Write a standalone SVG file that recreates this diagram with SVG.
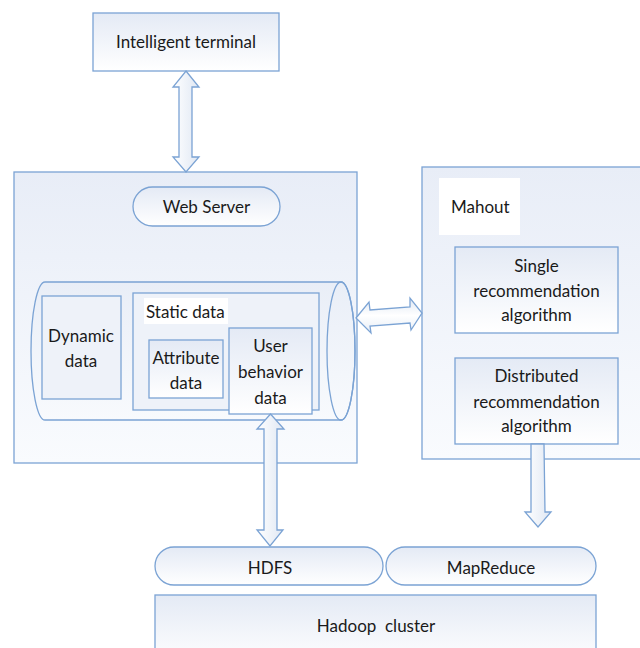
<svg xmlns="http://www.w3.org/2000/svg" width="640" height="648" viewBox="0 0 640 648">
  <defs>
    <linearGradient id="panelFill" x1="0" y1="0" x2="0" y2="1">
      <stop offset="0" stop-color="#e8edf7"/>
      <stop offset="1" stop-color="#f9fbfe"/>
    </linearGradient>
    <linearGradient id="boxFill" x1="0" y1="0" x2="0" y2="1">
      <stop offset="0" stop-color="#e4eaf5"/>
      <stop offset="1" stop-color="#ffffff"/>
    </linearGradient>
    <linearGradient id="arrowFillV" x1="0" y1="0" x2="1" y2="0">
      <stop offset="0" stop-color="#ffffff"/>
      <stop offset="1" stop-color="#dfe7f3"/>
    </linearGradient>
    <linearGradient id="arrowFillH" x1="0" y1="0" x2="0" y2="1">
      <stop offset="0" stop-color="#dfe7f3"/>
      <stop offset="0.5" stop-color="#ffffff"/>
      <stop offset="1" stop-color="#e6edf6"/>
    </linearGradient>
    <linearGradient id="cylFill" x1="0" y1="0" x2="0" y2="1">
      <stop offset="0" stop-color="#e9eef7"/>
      <stop offset="1" stop-color="#f8fafd"/>
    </linearGradient>
  </defs>
  <style>
    .panel { fill: url(#panelFill); stroke: #7ba3d4; stroke-width: 1.3; }
    .box { fill: url(#boxFill); stroke: #7ba3d4; stroke-width: 1.3; }
    .plain { fill: #eef2f9; stroke: #7ba3d4; stroke-width: 1.3; }
    .pill { fill: url(#boxFill); stroke: #7ba3d4; stroke-width: 1.3; }
    .arrowV { fill: url(#arrowFillV); stroke: #7ba3d4; stroke-width: 1.3; stroke-linejoin: miter; }
    .arrowH { fill: url(#arrowFillH); stroke: #7ba3d4; stroke-width: 1.3; stroke-linejoin: miter; }
    .label { fill: #ffffff; stroke: none; }
    text { font-family: Lato, "Liberation Sans", sans-serif; font-size: 17px; fill: #1a1a1a; }
    .c { text-anchor: middle; }
  </style>

  <!-- Intelligent terminal -->
  <g id="terminal">
    <rect class="box" x="93" y="13" width="186" height="58"/>
    <text class="c" x="186" y="48">Intelligent terminal</text>
  </g>

  <!-- Web server panel -->
  <g id="webserver-panel">
    <rect class="panel" x="14" y="172" width="343" height="291"/>
  </g>

  <g id="webserver">
    <rect class="pill" x="133" y="187" width="147" height="39" rx="19.5" ry="19.5"/>
    <text class="c" x="206.5" y="213">Web Server</text>
  </g>

  <!-- Data store drawn as a horizontal cylinder -->
  <g id="datastore">
    <path fill="url(#cylFill)" stroke="#7ba3d4" stroke-width="1.3" d="M45,282 L341,282 A14,69 0 0 1 341,420 L45,420 A14,69 0 0 1 45,282 Z"/>
    <ellipse cx="341" cy="351" rx="14" ry="69" fill="none" stroke="#7ba3d4" stroke-width="1.3"/>
  </g>

  <g id="dynamic-data">
    <rect class="plain" x="42" y="296" width="79" height="103"/>
    <text class="c" x="81" y="342">Dynamic</text>
    <text class="c" x="81" y="367">data</text>
  </g>

  <g id="static-data">
    <rect class="plain" x="133" y="293" width="186" height="117"/>
    <rect class="label" x="144" y="298" width="84" height="26"/>
    <text x="146" y="318">Static data</text>
  </g>

  <g id="attribute-data">
    <rect class="box" x="149" y="340" width="74" height="58"/>
    <text class="c" x="186" y="364">Attribute</text>
    <text class="c" x="186" y="389">data</text>
  </g>

  <g id="user-behavior-data">
    <rect class="box" x="229" y="328" width="83" height="86"/>
    <text class="c" x="270.5" y="352">User</text>
    <text class="c" x="270.5" y="378">behavior</text>
    <text class="c" x="270.5" y="404">data</text>
  </g>

  <!-- Mahout panel -->
  <g id="mahout">
    <rect class="panel" x="422" y="167" width="230" height="292"/>
    <rect class="label" x="439" y="178" width="81" height="57"/>
    <text x="451" y="213">Mahout</text>
  </g>

  <g id="single-recommendation">
    <rect class="box" x="455" y="247" width="163" height="86"/>
    <text class="c" x="536.5" y="272">Single</text>
    <text class="c" x="536.5" y="297">recommendation</text>
    <text class="c" x="536.5" y="321">algorithm</text>
  </g>

  <g id="distributed-recommendation">
    <rect class="box" x="455" y="358" width="163" height="86"/>
    <text class="c" x="536.5" y="382">Distributed</text>
    <text class="c" x="536.5" y="408">recommendation</text>
    <text class="c" x="536.5" y="432">algorithm</text>
  </g>

  <!-- Hadoop layer -->
  <g id="hdfs">
    <rect class="pill" x="155" y="547" width="228" height="38" rx="19" ry="19"/>
    <text class="c" x="270" y="574">HDFS</text>
  </g>

  <g id="mapreduce">
    <rect class="pill" x="386" y="547" width="210" height="38" rx="19" ry="19"/>
    <text class="c" x="491" y="574">MapReduce</text>
  </g>

  <g id="hadoop-cluster">
    <rect class="box" x="155" y="595" width="441" height="70"/>
    <text class="c" x="376" y="632" style="white-space:pre">Hadoop  cluster</text>
  </g>

  <!-- Connectors: block arrows -->
  <g id="connectors">
    <polygon class="arrowV" points="186,71 199,87 192,87 192,157 199,157 186,172 173,157 179,157 179,87 173,87"/>
    <polygon class="arrowH" points="356,318 369,302 370,310 410,307 410,298 422,313 411,330 410,323 370,326 371,333"/>
    <polygon class="arrowV" points="270.5,414 284,429 277,429 277,530 283,530 270,546 257,530 264,530 264,429 257,429"/>
    <polygon class="arrowV" points="531,444 544,444 545,512 551,512 538,527 525,512 531,512"/>
  </g>
</svg>
